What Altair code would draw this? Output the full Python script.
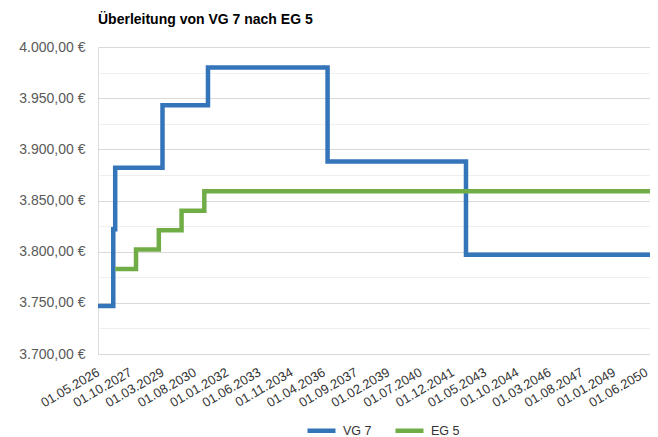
import altair as alt
import pandas as pd

# ---- data ----
blue_name = "VG 7"
blue_dates = ["2026-05-01", "2027-01-01", "2027-02-01", "2029-03-01", "2031-03-01",
              "2036-06-01", "2042-07-01", "2050-08-01"]
blue_values = [3747.0, 3822.0, 3882.0, 3943.0, 3980.0, 3888.0, 3797.0, 3797.0]

green_name = "EG 5"
green_dates = ["2027-02-01", "2028-01-01", "2029-01-01", "2030-01-01", "2031-01-01",
               "2050-08-01"]
green_values = [3783.0, 3802.0, 3821.0, 3840.0, 3859.0, 3859.0]

x_tick_dates = [(2026, 5), (2027, 10), (2029, 3), (2030, 8), (2032, 1), (2033, 6),
                (2034, 11), (2036, 4), (2037, 9), (2039, 2), (2040, 7), (2041, 12),
                (2043, 5), (2044, 10), (2046, 3), (2047, 8), (2049, 1), (2050, 6)]
y_tick_values = [3700, 3725, 3750, 3775, 3800, 3825, 3850, 3875, 3900, 3925,
                 3950, 3975, 4000]

title_text = "Überleitung von VG 7 nach EG 5"

df_blue = pd.DataFrame({"Datum": blue_dates, "Betrag": blue_values, "Reihe": blue_name})
df_green = pd.DataFrame({"Datum": green_dates, "Betrag": green_values, "Reihe": green_name})

FONT = "Liberation Sans"

color_scale = alt.Scale(domain=[blue_name, green_name], range=["#3474B9", "#71AD47"])

x_enc = alt.X(
    "Datum:T",
    scale=alt.Scale(type="utc",
                    domain=[alt.DateTime(year=2026, month=5, date=1, utc=True),
                            alt.DateTime(year=2050, month=8, date=1, utc=True)]),
    axis=alt.Axis(
        title=None,
        values=[alt.DateTime(year=y, month=m, date=1, utc=True) for y, m in x_tick_dates],
        labelExpr="utcFormat(datum.value, '%d.%m.%Y')",
        labelAngle=-30, labelAlign="right", labelBaseline="middle",
        labelPadding=17, labelFontSize=13, labelColor="#333333", labelFont=FONT,
        ticks=False, domain=False, grid=False, labelOverlap=False,
    ),
)

y_label_expr = (
    "datum.value % 50 == 0 ? replace(replace(replace(format(datum.value, ',.2f'), ',', '_'), "
    "'.', ','), '_', '.') + ' €' : ''"
)

y_enc = alt.Y(
    "Betrag:Q",
    scale=alt.Scale(domain=[3700, 4000], nice=False, zero=False),
    axis=alt.Axis(
        title=None, values=y_tick_values, labelExpr=y_label_expr,
        labelFontSize=14, labelColor="#595959", labelFont=FONT, labelPadding=13,
        ticks=False, domain=False, grid=True,
        gridColor=alt.condition("datum.value % 50 == 0", alt.value("#D9D9D9"), alt.value("#EFEFEF")),
        gridWidth=1.2,
    ),
)

color_enc = alt.Color(
    "Reihe:N", scale=color_scale,
    legend=alt.Legend(
        title=None, orient="none", direction="horizontal",
        legendX=207, legendY=367, symbolType="stroke", symbolSize=784,
        symbolStrokeWidth=4.5, labelFontSize=12.5, labelFont=FONT, labelColor="#333333",
        labelOffset=5, columnPadding=14, padding=0,
    ),
)

blue = alt.Chart(df_blue).mark_line(interpolate="step-after", strokeWidth=4.5).encode(
    x=x_enc, y=y_enc, color=color_enc)
green = alt.Chart(df_green).mark_line(interpolate="step-after", strokeWidth=4.5).encode(
    x=x_enc, y=y_enc, color=color_enc)

chart = alt.layer(blue, green).properties(
    width=552, height=307,
    title=alt.TitleParams(title_text, anchor="start", frame="group", fontSize=14,
                          fontWeight="bold", font=FONT, color="#000000", offset=13),
    autosize=alt.AutoSizeParams(type="none"),
    padding={"left": 90, "top": 39, "right": 0, "bottom": 86},
).configure_view(stroke=None).configure(background="white")

chart.save("out.html", embed_options={"renderer": "svg", "actions": False})
